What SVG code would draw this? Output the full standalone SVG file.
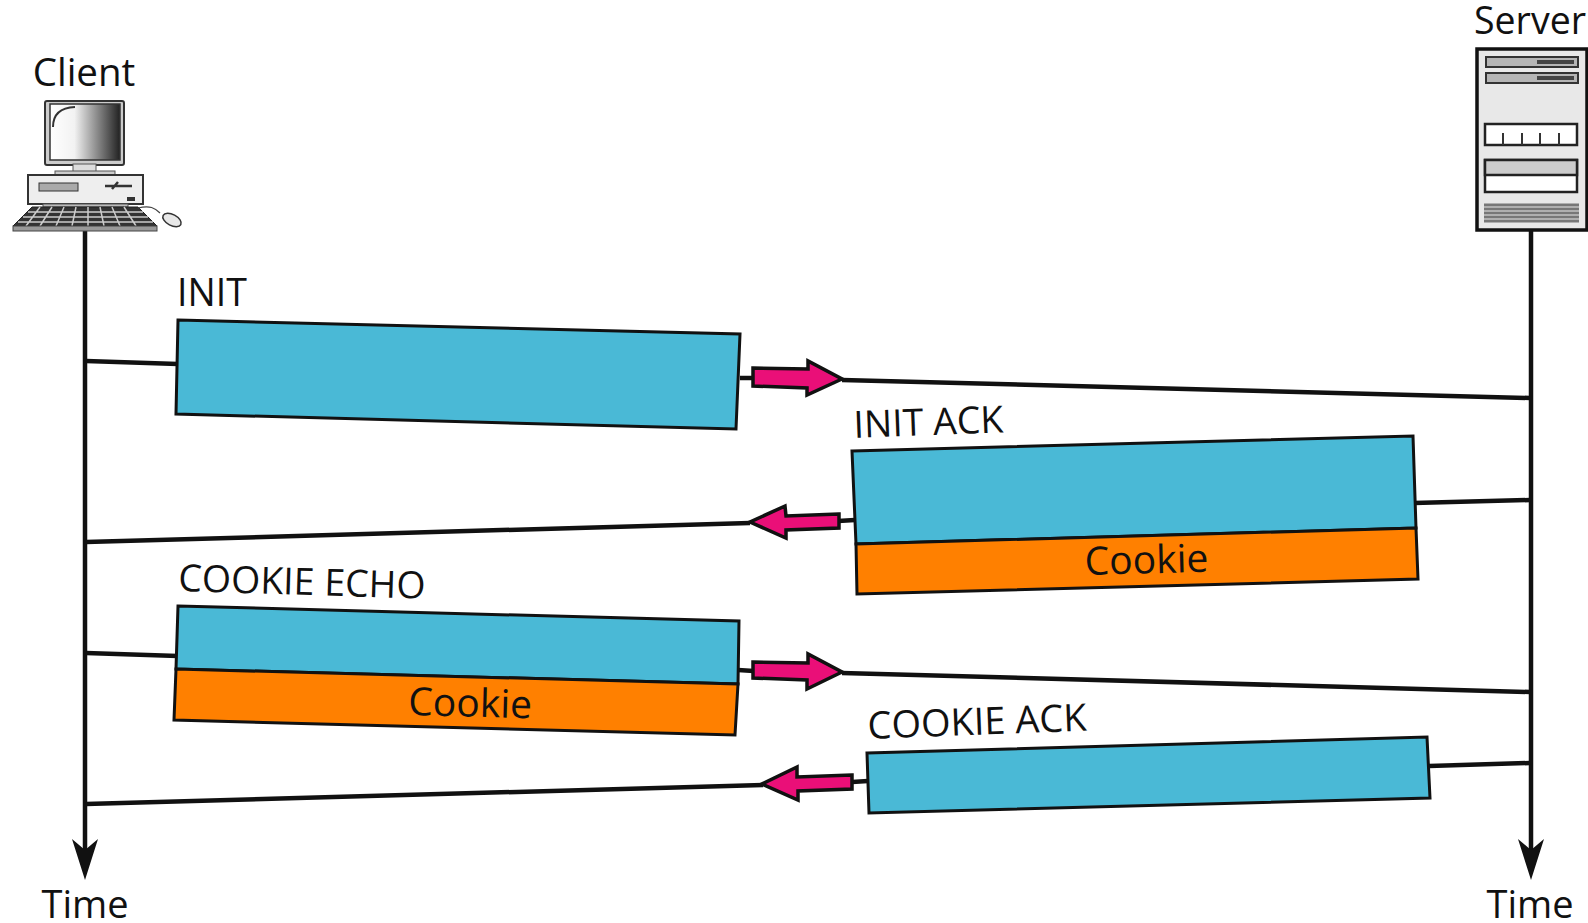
<svg xmlns="http://www.w3.org/2000/svg" width="1588" height="923" viewBox="0 0 1588 923">
<defs>
<linearGradient id="scr" x1="0" x2="1" y1="0" y2="0"><stop offset="0" stop-color="#fff"/><stop offset="0.35" stop-color="#f2f2f2"/><stop offset="1" stop-color="#222"/></linearGradient>
</defs>
<style>
text{font-family:"Open Sans","Noto Sans","Liberation Sans",sans-serif;fill:#111}
.lbl{font-size:37.5px}
.ck{font-size:39px}
.t{font-size:38px}
.ln{stroke:#111;stroke-width:4.5;fill:none}
.b{fill:#4ab9d6;stroke:#111;stroke-width:3}
.o{fill:#ff8000;stroke:#111;stroke-width:3}
.a{fill:#ea0f78;stroke:#111;stroke-width:3.5;stroke-linejoin:miter}
</style>
<rect width="1588" height="923" fill="#fff"/>
<g id="connectors">
<path class="ln" d="M85,230V860"/>
<path d="M72,839L85,880L98,839L85,850Z" fill="#111"/>
<path class="ln" d="M1531,230V860"/>
<path d="M1518,839L1531,880L1544,839L1531,850Z" fill="#111"/>
<path class="ln" d="M86,361L178,364"/>
<path class="ln" d="M740,378L754,378"/>
<path class="ln" d="M842,380L1530,398"/>
<path class="ln" d="M86,542L750,523"/>
<path class="ln" d="M838,521L855,520"/>
<path class="ln" d="M1414,503L1530,500"/>
<path class="ln" d="M86,653L178,656"/>
<path class="ln" d="M738,670L754,671"/>
<path class="ln" d="M842,673L1530,692"/>
<path class="ln" d="M86,804L763,785"/>
<path class="ln" d="M852,782L868,781"/>
<path class="ln" d="M1429,766L1530,763"/>
</g>
<g id="client">
<text x="84" y="86" text-anchor="middle" style="font-size:38.5px">Client</text>
<rect x="45" y="101" width="79" height="64" rx="2" fill="#ccc" stroke="#333" stroke-width="2"/>
<rect x="50" y="104" width="70" height="56" fill="url(#scr)" stroke="#333" stroke-width="1.5"/>
<path d="M53,127Q53,108 75,107" fill="none" stroke="#333" stroke-width="2"/>
<rect x="73" y="164" width="23" height="8" fill="#ddd" stroke="#555"/>
<rect x="55" y="171" width="60" height="4" fill="#ccc" stroke="#555"/>
<rect x="28" y="175" width="115" height="29" fill="#eee" stroke="#333" stroke-width="2"/>
<rect x="39" y="183" width="39" height="8" fill="#aaa" stroke="#333"/>
<path d="M105,186H132M118,182L112,189" stroke="#333" stroke-width="2.5" fill="none"/>
<rect x="127" y="197" width="8" height="4" fill="#333"/>
<rect x="43" y="204" width="85" height="3" fill="#bbb" stroke="#555"/>
<path d="M13,226L32,207H138L157,226Z" fill="#333" stroke="#222"/>
<path style="stroke:#ccc;stroke-width:1.5" d="M28,212H143M23,217H148M18,222H153M40,207L26,226M52,207L40,226M64,207L56,226M76,207L72,226M88,207L88,226M100,207L104,226M112,207L120,226M124,207L136,226"/>
<rect x="13" y="226" width="144" height="5" fill="#999" stroke="#444"/>
<path d="M138,208C150,205 155,208 160,213" fill="none" stroke="#444" stroke-width="1.2"/>
<ellipse cx="172" cy="220" rx="10" ry="5.5" transform="rotate(28 172 220)" fill="#e8e8e8" stroke="#333" stroke-width="1.5"/>
</g>
<g id="server">
<text x="1530" y="34" text-anchor="middle" style="font-size:37.5px">Server</text>
<rect x="1477" y="49" width="110" height="181" fill="#e8e8e8" stroke="#111" stroke-width="3.5"/>
<rect x="1486" y="57" width="92" height="10" fill="#b5b5b5" stroke="#333" stroke-width="2"/>
<rect x="1537" y="60" width="37" height="4" fill="#444"/>
<rect x="1486" y="73" width="92" height="10" fill="#b5b5b5" stroke="#333" stroke-width="2"/>
<rect x="1537" y="76" width="37" height="4" fill="#444"/>
<rect x="1485" y="124" width="92" height="21" fill="#fff" stroke="#222" stroke-width="2.5"/>
<path d="M1503,133V145M1522,133V145M1540,133V145M1559,133V145" stroke="#333" stroke-width="2"/>
<rect x="1485" y="160" width="92" height="32" fill="#fff" stroke="#222" stroke-width="2.5"/>
<rect x="1485" y="160" width="92" height="15" fill="#ccc" stroke="#222" stroke-width="2.5"/>
<path d="M1484,205H1579M1484,209H1579M1484,213H1579M1484,217H1579M1484,221H1579" stroke="#777" stroke-width="3"/>
</g>
<g id="init">
<polygon class="b" points="178,320 740,334 736,429 176,414"/>
<text class="lbl" x="177" y="306">INIT</text>
</g>
<polygon id="arrow-init" class="a" points="753,368 808,369 808,361 842,379 807,395 807,388 753,386"/>
<g id="init-ack">
<polygon class="b" points="852,451 1413,436 1416,528 856,544"/>
<polygon class="o" points="856,544 1416,528 1418,579 857,594"/>
<text class="lbl" transform="translate(854,438) rotate(-2.2)">INIT ACK</text>
<text class="ck" transform="translate(1085,575) rotate(-1.5)">Cookie</text>
</g>
<polygon id="arrow-ack" class="a" points="839,514 786,516 785,506 750,522 786,538 786,530 839,528"/>
<g id="cookie-echo">
<polygon class="b" points="178,606 739,621 738,684 176,669"/>
<polygon class="o" points="176,669 738,684 735,735 174,720"/>
<text class="lbl" transform="translate(178,591) rotate(1.8)">COOKIE ECHO</text>
<text class="ck" transform="translate(408,715) rotate(1.5)">Cookie</text>
</g>
<polygon id="arrow-echo" class="a" points="753,662 808,663 808,654 842,672 807,689 807,680 753,678"/>
<g id="cookie-ack">
<polygon class="b" points="867,753 1427,737 1430,798 869,813"/>
<text transform="translate(868,739) rotate(-2.2)" style="font-size:38px">COOKIE ACK</text>
</g>
<polygon id="arrow-cack" class="a" points="852,775 797,777 797,767 762,784 798,800 798,791 852,789"/>
<g id="time-labels">
<text class="t" x="85" y="918" text-anchor="middle">Time</text>
<text class="t" x="1530" y="918" text-anchor="middle">Time</text>
</g>
</svg>
